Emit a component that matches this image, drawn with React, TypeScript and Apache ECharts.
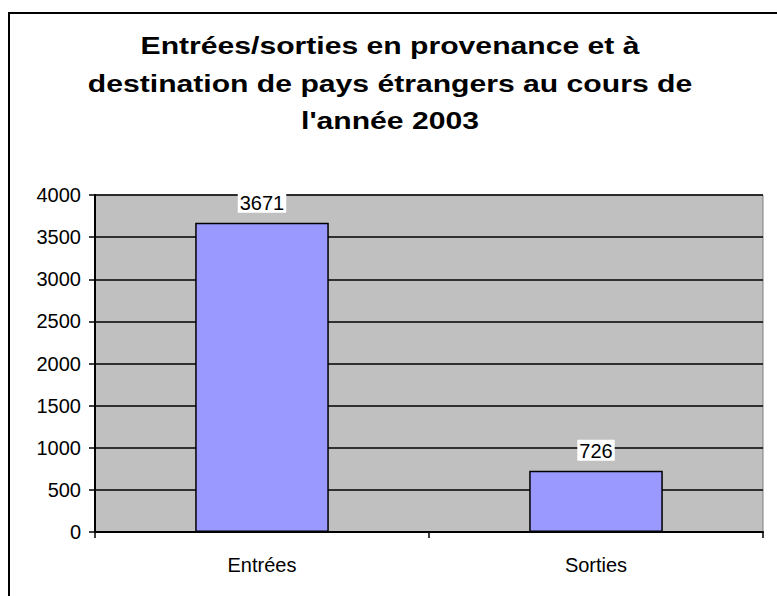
import React, { useEffect, useRef } from "react";
import * as echarts from "echarts";

const titleText = "Entrées/sorties en provenance et à\ndestination de pays étrangers au cours de\nl'année 2003";
const categories = ["Entrées", "Sorties"];
const values = [3671, 726];
const yMin = 0;
const yMax = 4000;
const yStep = 500;

export default function App() {
  const ref = useRef<HTMLDivElement>(null);
  useEffect(() => {
    document.body.style.margin = "0";
    const chart = echarts.init(ref.current!, null, { renderer: "svg" });
    const font = "Arial, 'Liberation Sans', sans-serif";
    chart.setOption({
      animation: false,
      backgroundColor: "#ffffff",
      graphic: [
        {
          type: "rect",
          shape: { x: 9, y: 13, width: 800, height: 700 },
          style: { fill: "none", stroke: "#000", lineWidth: 2 },
          silent: true,
          z: 100,
        },
        {
          type: "text",
          x: 390,
          y: 28,
          scaleX: 1.31,
          style: {
            text: titleText,
            fontFamily: font,
            fontWeight: "bold",
            fontSize: 23,
            lineHeight: 37.5,
            fill: "#000",
            align: "center",
            verticalAlign: "top",
          },
        },
      ],
      grid: {
        left: 95,
        top: 195,
        right: 14,
        bottom: 64,
        show: true,
        backgroundColor: "#c0c0c0",
        borderColor: "#808080",
        borderWidth: 1,
      },
      xAxis: {
        type: "category",
        data: categories,
        axisLine: { show: true, lineStyle: { color: "#000", width: 2 } },
        axisTick: { show: true, alignWithLabel: false, length: 6, lineStyle: { color: "#000", width: 1.5 } },
        axisLabel: { fontFamily: font, fontSize: 20, color: "#000", margin: 23 },
        splitLine: { show: false },
      },
      yAxis: {
        type: "value",
        min: yMin,
        max: yMax,
        interval: yStep,
        axisLine: { show: true, lineStyle: { color: "#000", width: 2 } },
        axisTick: { show: true, length: 6, lineStyle: { color: "#000", width: 1.5 } },
        axisLabel: { fontFamily: font, fontSize: 20, color: "#000", margin: 14, formatter: (v: number) => String(v) },
        splitLine: { show: true, lineStyle: { color: "#000", width: 1.5 } },
      },
      series: [
        {
          type: "bar",
          data: values,
          barWidth: "40%",
          itemStyle: { color: "#9999ff", borderColor: "#000", borderWidth: 1.5 },
          label: {
            show: true,
            position: "top",
            distance: 10,
            fontFamily: font,
            fontSize: 20,
            color: "#000",
            backgroundColor: "#ffffff",
            padding: [1, 2, 0, 2],
          },
        },
      ],
    });
    return () => chart.dispose();
  }, []);
  return <div ref={ref} style={{ width: 777, height: 596 }} />;
}
